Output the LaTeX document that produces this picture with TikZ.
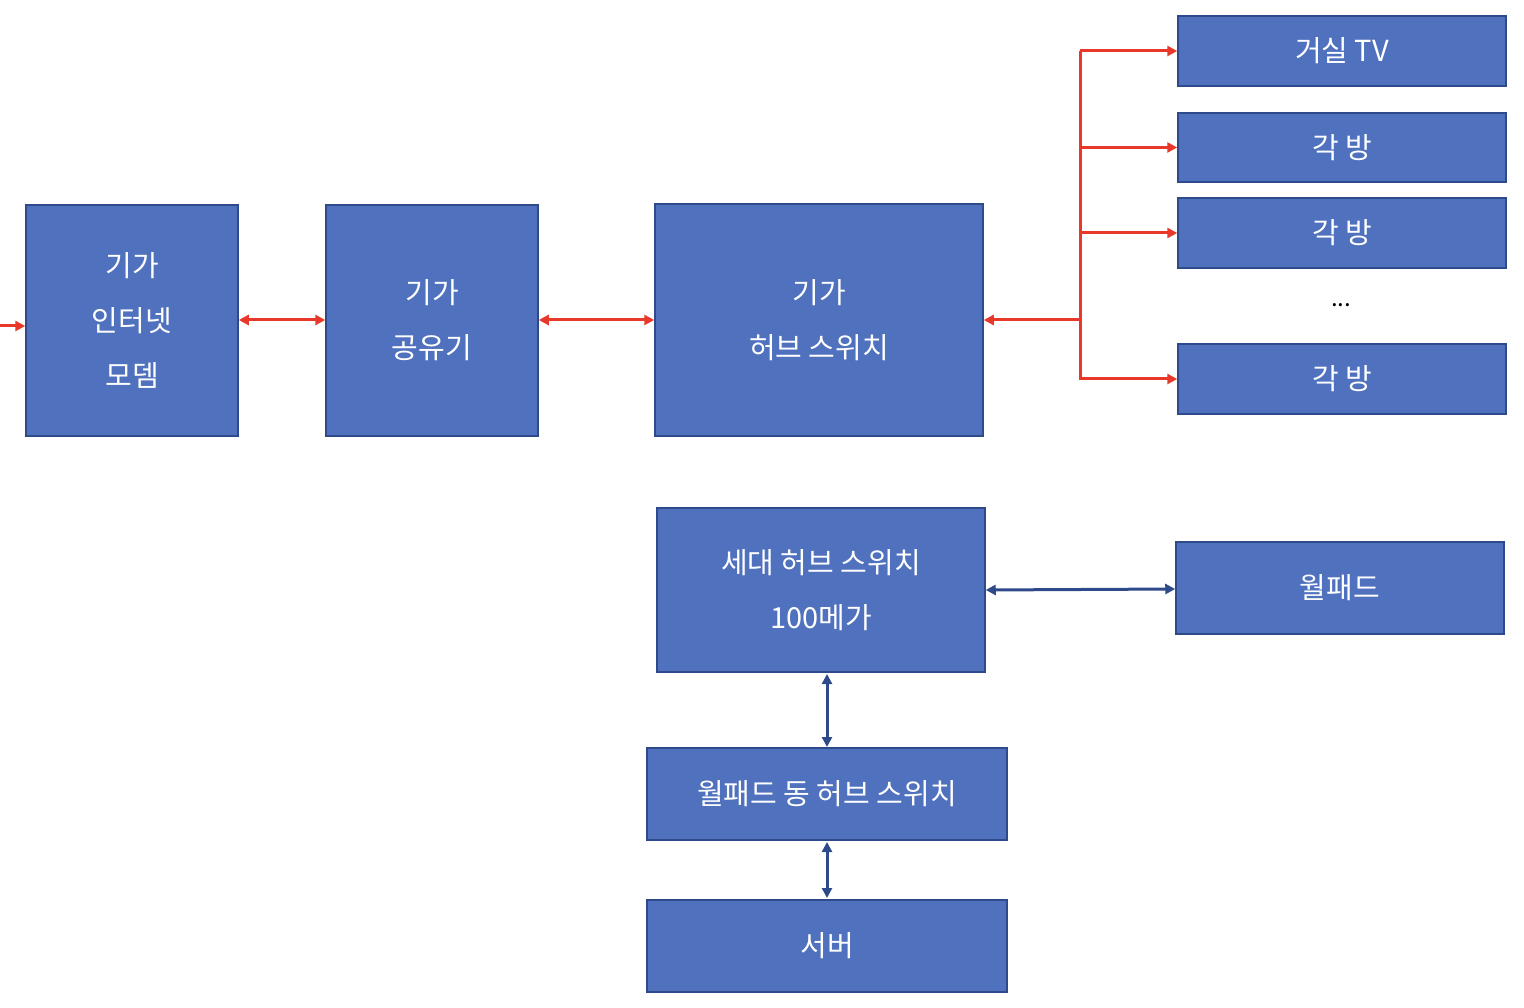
\documentclass[tikz,border=0pt]{standalone}
\usepackage{fontspec}
\setmainfont{Noto Sans CJK KR}
\usetikzlibrary{arrows.meta}
\definecolor{bf}{HTML}{4F71BE}
\definecolor{bd}{HTML}{2F4A8A}
\definecolor{rr}{HTML}{E8382A}
\begin{document}
\begin{tikzpicture}[x=1pt,y=-1pt,
 box/.style={draw=bd,line width=1.5pt,fill=bf,text=white,align=center,font=\fontsize{29}{55}\selectfont,inner sep=0pt},
 ra/.style={draw=rr,line width=3pt,{Triangle[length=10pt,width=10pt]}-{Triangle[length=10pt,width=10pt]}},
 ro/.style={draw=rr,line width=3pt,-{Triangle[length=10pt,width=10pt]}},
 ba/.style={draw=bd,line width=3pt,{Triangle[length=10pt,width=10pt]}-{Triangle[length=10pt,width=10pt]}}]
\useasboundingbox[fill=white] (0,0) rectangle (1524,1008);
\newcommand{\bx}[6]{\node[box,minimum width=#4-#2,minimum height=#5-#3] (#1) at ({(#2+#4)/2},{(#3+#5)/2}) {#6};}
\bx{modem}{26}{205}{238}{436}{기가\\인터넷\\모뎀}
\bx{router}{326}{205}{538}{436}{기가\\공유기}
\bx{hub}{655}{204}{983}{436}{기가\\허브 스위치}
\bx{tv}{1178}{16}{1506}{86}{거실 TV}
\bx{r1}{1178}{113}{1506}{182}{각 방}
\bx{r2}{1178}{198}{1506}{268}{각 방}
\bx{r3}{1178}{344}{1506}{414}{각 방}
\node[font=\fontsize{24}{28}\selectfont] (dots) at (1341,305) {...};
\bx{shub}{657}{508}{985}{672}{세대 허브 스위치\\100메가}
\bx{wp}{1176}{542}{1504}{634}{월패드}
\bx{dhub}{647}{748}{1007}{840}{월패드 동 허브 스위치}
\bx{srv}{647}{900}{1007}{992}{서버}
\coordinate (in) at (0,326);
\coordinate (j) at (1080,320);
\draw[ro] (in) -- (modem.west|-in);
\draw[ra] (modem.east|-j) -- (router.west|-j);
\draw[ra] (router.east|-j) -- (hub.west|-j);
\draw[ro] (j) -- (hub.east|-j);
\draw[rr,line width=3pt] (1080,51) -- (1080,380);
\foreach \t in {tv,r1,r2,r3} \draw[ro] (\t.west-|j) -- (\t.west);
\draw[ba] (shub.east|-0,590) -- (wp.west|-0,589);
\draw[ba] (827,674) -- (827,747);
\draw[ba] (827,842) -- (827,898);
\end{tikzpicture}
\end{document}
